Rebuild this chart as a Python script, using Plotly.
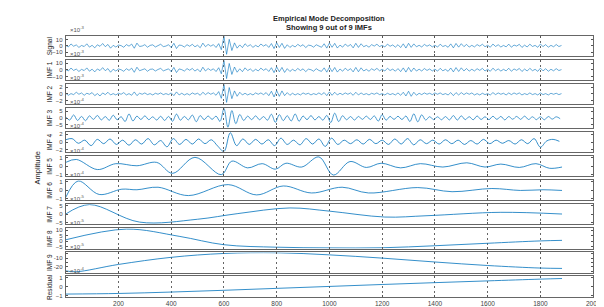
import plotly.graph_objects as go

W, H = 604, 307

# ---------------- data (mantissas; exponent per panel in EXPONENTS) ----------------
PANEL_NAMES = ["Signal", "IMF 1", "IMF 2", "IMF 3", "IMF 4", "IMF 5",
               "IMF 6", "IMF 7", "IMF 8", "IMF 9", "Residual"]
EXPONENTS = [-3, -3, -3, -4, -4, -4, -4, -5, -5, -5, -4]

SIGNAL_STEP = 10
signal_vals = [
    0.6, -1.8, 2.9, -0.7, 1.4, -2.6, 0.5, -1.2, 3.1, -2.2,
    0.8, -3.3, 1.6, -0.9, 3.6, -1.4, 2.1, -3.8, 0.7, -2.0,
    1.1, 0.3, -2.4, 1.9, -0.6, 2.7, -3.9, 4.2, -1.1, -0.4,
    1.8, -2.3, 0.6, 1.5, -1.9, 0.4, 2.4, -1.3, -0.5, 1.7,
    -2.9, 3.9, -4.3, 1.2, 0.5, -2.0, 1.7, -0.8, 2.3, -1.6,
    0.9, -3.1, 4.2, -1.5, 2.2, -0.6, 1.8, -2.7, 3.4, -6.2,
    15.0, -13.5, 10.2, -7.5, 4.6, -3.8, 1.4, -2.9, 3.2, -0.9,
    1.6, -2.5, 0.7, -1.8, 2.8, -0.5, 1.9, -2.6, 3.5, -4.4,
    4.8, -2.7, 3.9, -4.1, 1.6, -2.6, 0.6, -1.9, 2.3, -0.8,
    1.7, -2.9, 0.9, 0.4, -2.2, 1.6, -0.7, -2.4, 3.2, -3.7,
    4.3, -2.4, 3.8, -3.6, 1.1, -2.2, 2.7, -0.9, 2.0, -3.3,
    3.9, -2.6, 3.2, -1.5, 0.6, -2.3, 1.8, -0.5, 2.4, -1.2,
    0.7, -1.9, 2.6, -0.8, 1.3, -2.2, 1.7, -2.8, 3.1, -3.6,
    3.9, -2.5, 3.0, -1.6, 0.8, -1.9, 2.2, -0.7, 1.5, -1.8,
    0.9, -2.1, 2.5, -1.2, 0.5, -2.4, 3.0, -3.3, 3.7, -2.2,
    3.3, -1.4, 2.2, -2.1, 0.7, -1.8, 1.9, -0.6, 2.4, -1.5,
    0.8, -2.3, 2.7, -1.1, 1.6, -2.0, 0.6, -1.7, 2.6, -2.3,
    1.2, -0.5, 2.3, -2.6, 1.0, -1.9, 2.5, -1.1, 0.6, -2.4,
    2.7, -1.3, 1.9, -2.3, 0.7, -1.6, 2.0, -1.2, 0.5,
]

imf1_vals = [
    0.5, -1.6, 2.7, -0.9, 1.2, -2.4, 0.7, -1.0, 2.9, -2.0,
    1.0, -3.0, 1.4, -1.1, 3.3, -1.2, 1.9, -3.5, 0.9, -1.8,
    1.3, 0.2, -2.2, 1.7, -0.8, 2.5, -3.6, 3.9, -1.3, -0.2,
    1.6, -2.1, 0.8, 1.2, -1.7, 0.6, 2.2, -1.5, -0.3, 1.5,
    -2.7, 3.6, -4.0, 1.4, 0.3, -1.8, 1.9, -0.6, 2.1, -1.8,
    1.1, -2.9, 3.9, -1.7, 2.0, -0.8, 1.6, -2.5, 3.2, -5.8,
    13.8, -12.9, 9.5, -6.8, 4.2, -3.5, 1.6, -2.7, 3.0, -1.1,
    1.4, -2.3, 0.9, -1.6, 2.6, -0.7, 1.7, -2.4, 3.2, -4.1,
    4.5, -2.9, 3.6, -3.8, 1.8, -2.4, 0.8, -1.7, 2.1, -1.0,
    1.5, -2.7, 1.1, 0.2, -2.0, 1.8, -0.9, -2.2, 3.0, -3.4,
    4.0, -2.6, 3.5, -3.3, 1.3, -2.0, 2.5, -1.1, 1.8, -3.0,
    3.6, -2.8, 3.0, -1.7, 0.8, -2.1, 1.6, -0.7, 2.2, -1.4,
    0.9, -1.7, 2.4, -1.0, 1.1, -2.0, 1.9, -2.6, 2.9, -3.3,
    3.6, -2.7, 2.8, -1.8, 1.0, -1.7, 2.0, -0.9, 1.3, -1.6,
    1.1, -1.9, 2.3, -1.4, 0.7, -2.2, 2.8, -3.0, 3.4, -2.4,
    3.0, -1.6, 2.0, -1.9, 0.9, -1.6, 1.7, -0.8, 2.2, -1.7,
    1.0, -2.1, 2.5, -1.3, 1.4, -1.8, 0.8, -1.5, 2.4, -2.1,
    1.4, -0.7, 2.1, -2.4, 1.2, -1.7, 2.3, -1.3, 0.8, -2.2,
    2.5, -1.5, 1.7, -2.1, 0.9, -1.4, 1.8, -1.0, 0.4,
]

imf2_vals = [
    0.2, -0.4, 0.1, -0.2, 0.5, -0.1, 0.3, -0.4, 0.2, -0.1,
    0.4, -0.5, 0.1, -0.6, 0.3, -0.2, 0.5, -0.3, 0.1, -0.3,
    0.2, -0.1, 0.4, -0.3, 0.1, -0.4, 0.6, -0.5, 0.2, -0.1,
    0.3, -0.2, 0.1, -0.3, 0.2, -0.1, 0.3, -0.2, 0.1, -0.2,
    0.3, -0.5, 0.6, -0.3, 0.2, -0.3, 0.1, -0.3, 0.3, -0.1,
    0.2, -0.4, 0.5, -0.2, 0.4, -0.1, 0.3, -0.4, 0.7, -1.3,
    2.8, -2.5, 1.9, -1.4, 0.9, -0.7, 0.5, -0.3, 0.2, -0.3,
    0.1, -0.3, 0.3, -0.1, 0.3, -0.2, 0.4, -0.5, 0.8, -0.9,
    1.0, -0.7, 0.9, -0.5, 0.4, -0.4, 0.2, -0.3, 0.1, -0.3,
    0.3, -0.1, 0.2, -0.3, 0.1, -0.2, 0.3, -0.2, 0.4, -0.5,
    0.6, -0.4, 0.5, -0.3, 0.2, -0.2, 0.3, -0.1, 0.3, -0.4,
    0.5, -0.3, 0.3, -0.2, 0.1, -0.3, 0.2, -0.1, 0.3, -0.2,
    0.1, -0.3, 0.2, -0.2, 0.1, -0.3, 0.3, -0.4, 0.5, -0.6,
    0.8, -0.7, 0.5, -0.4, 0.2, -0.2, 0.3, -0.1, 0.2, -0.2,
    0.3, -0.1, 0.3, -0.2, 0.1, -0.3, 0.4, -0.5, 0.4, -0.3,
    0.4, -0.2, 0.3, -0.1, 0.3, -0.3, 0.1, -0.3, 0.2, -0.2,
    0.1, -0.3, 0.4, -0.2, 0.3, -0.1, 0.2, -0.3, 0.3, -0.2,
    0.3, -0.1, 0.3, -0.3, 0.1, -0.2, 0.3, -0.2, 0.1, -0.3,
    0.3, -0.2, 0.1, -0.3, 0.2, -0.1, 0.2, -0.2, 0.1,
]

IMF3_STEP = 15
imf3_vals = [
    0.8, -1.5, 2.3, -1.8, 1.2, -2.0, 1.6, -1.0, 1.9, -1.4,
    1.1, -1.7, 2.1, -1.3, 1.0, -2.6, 3.0, -2.2, 1.4, -1.1,
    1.6, -1.2, 0.9, -1.5, 1.3, -1.8, 1.2, -2.4, 2.9, -1.6,
    1.2, -1.4, 2.2, -2.7, 1.8, -1.2, 1.5, -1.0, 1.4, -2.5,
    7.0, -6.8, 5.5, -4.2, 2.6, -1.8, 1.4, -1.2, 1.6, -1.3,
    1.1, -1.6, 2.8, -3.2, 2.5, -1.9, 1.7, -2.2, 3.0, -2.4,
    1.5, -1.2, 1.8, -1.4, 1.1, -1.6, 1.9, -3.4, 3.6, -2.6,
    1.7, -1.3, 1.1, -1.5, 1.2, -1.0, 1.4, -1.1, 1.6, -2.3,
    2.5, -1.6, 1.2, -1.0, 1.3, -1.1, 1.5, -2.6, 3.1, -2.8,
    2.4, -1.5, 1.0, -1.2, 0.9, -1.3, 1.1, -1.4, 1.8, -1.5,
    1.6, -1.2, 1.0, -1.3, 1.5, -1.1, 0.9, -1.2, 1.3, -1.0,
    1.2, -1.4, 1.1, -0.9, 1.2, -1.0, 1.4, -1.1, 0.9, -1.2,
    1.0, -1.3, 1.1, -0.8, 0.9, -0.5,
]

IMF4_STEP = 24
imf4_vals = [
    0.6, 0.9, -0.3, 0.5, -0.9, 0.7, -0.4, 0.8, -0.6, 0.5,
    -0.8, 0.6, -0.5, 0.9, -0.7, 0.4, -1.2, 0.9, -0.6, 0.7,
    -0.5, 0.8, -0.4, 0.6, -1.0, -2.4, 2.4, -0.9, 0.8, -0.6,
    0.7, -0.5, 0.6, -0.9, 1.0, -0.6, 0.5, -0.7, 0.9, -0.5,
    0.8, -1.1, 1.0, -0.6, 0.5, -0.4, 0.6, -0.5, 0.7, -0.4,
    0.5, -0.6, 0.8, -0.5, 0.9, -0.7, 0.6, -0.4, 0.5, -0.5,
    0.6, -0.4, 0.5, -0.6, 0.4, -0.5, 0.7, -0.4, 0.5, -0.3,
    0.4, -0.5, 0.6, -0.4, 0.9, -1.3, 0.3, 0.7, 0.2,
]

imf5_x = [0, 40, 120, 190, 270, 345, 405, 490, 590, 630, 690, 745, 795, 835, 895,
          960, 1015, 1078, 1140, 1196, 1270, 1345, 1430, 1521, 1590, 1650, 1720,
          1783, 1835, 1882]
imf5_v = [0.45, 0.8, -0.4, 0.3, 0.05, 0.45, -0.85, 1.05, -1.0, 0.6, -0.2, 0.3,
          -0.35, 0.35, -0.1, 1.1, -1.05, 0.55, -0.15, 0.35, -0.2, 0.3, -0.1, 0.4,
          -0.1, 0.25, -0.15, 0.3, -0.25, -0.1]

imf6_x = [0, 47, 127, 213, 270, 350, 465, 616, 724, 825, 932, 1048, 1148, 1335,
          1465, 1616, 1724, 1810, 1882]
imf6_v = [-0.85, 1.1, -0.5, 0.13, 0.06, 0.36, -0.63, 0.67, -0.55, 0.51, -0.32,
          0.36, -0.32, 0.32, -0.17, 0.21, -0.02, 0.06, -0.02]

imf7_x = [0, 90, 280, 500, 650, 850, 1000, 1210, 1370, 1650, 1882]
imf7_v = [0.2, 5.8, -4.6, -2.9, 0.4, 3.8, 1.9, -1.6, -0.8, 1.2, 0.2]

imf8_x = [0, 230, 430, 600, 800, 1000, 1200, 1400, 1600, 1800, 1882]
imf8_v = [1.3, 10.8, 4.4, -3.1, -5.3, -5.9, -5.8, -4.0, -1.8, 0.3, 0.8]

imf9_x = [0, 40, 200, 400, 600, 800, 1000, 1200, 1400, 1600, 1800, 1882]
imf9_v = [-24.5, -25.5, -17.2, -9.1, -4.7, -3.9, -6.3, -10.0, -14.4, -18.4,
          -21.3, -21.7]

resid_x = [0, 200, 400, 600, 800, 1000, 1200, 1400, 1600, 1800, 1882]
resid_v = [-0.85, -0.78, -0.62, -0.42, -0.2, 0.02, 0.24, 0.45, 0.65, 0.85, 0.92]

Y_RANGES = [[-16, 16], [-15, 15], [-3, 3], [-7.5, 7.5], [-2.6, 2.6], [-1.2, 1.2],
            [-1.2, 1.2], [-6, 6], [-6.5, 11.5], [-26.5, -3.5], [-1.15, 1.15]]
Y_TICKS = [[-10, 0, 10], [-10, 0, 10], [-2, 0, 2], [-5, 0, 5], [-2, 0, 2],
           [-1, 0, 1], [-1, 0, 1], [-5, 0, 5], [-5, 0, 5, 10],
           [-25, -20, -15, -10, -5], [-1, 0, 1]]
Y_TICKTEXT = [None, None, None, None, None, None, None, None, None,
              ["", "-20", "", "-10", ""], None]
X_TICKS = [200, 400, 600, 800, 1000, 1200, 1400, 1600, 1800, 2000]


def grid_x(vals, step):
    return [i * step for i in range(len(vals))]


series = [
    (grid_x(signal_vals, SIGNAL_STEP), signal_vals, "linear", 0.6),
    (grid_x(imf1_vals, SIGNAL_STEP), imf1_vals, "linear", 0.6),
    (grid_x(imf2_vals, SIGNAL_STEP), imf2_vals, "linear", 0.6),
    (grid_x(imf3_vals, IMF3_STEP), imf3_vals, "spline", 0.7),
    (grid_x(imf4_vals, IMF4_STEP), imf4_vals, "spline", 0.8),
    (imf5_x, imf5_v, "spline", 0.8),
    (imf6_x, imf6_v, "spline", 0.8),
    (imf7_x, imf7_v, "spline", 0.8),
    (imf8_x, imf8_v, "spline", 0.8),
    (imf9_x, imf9_v, "spline", 0.8),
    (resid_x, resid_v, "spline", 0.8),
]

# ---------------- layout geometry (pixels) ----------------
X0, X1 = 58.5, 593.0
TOP0, PITCH, PH = 26.0, 24.4, 20.5
FONT = "Liberation Sans, Arial, Helvetica, sans-serif"
LINE_COLOR = "#0072BD"

fig = go.Figure()
layout = dict(
    width=W, height=H, autosize=False,
    margin=dict(l=0, r=0, t=0, b=0),
    paper_bgcolor="white", plot_bgcolor="white",
    showlegend=False,
    font=dict(family=FONT, size=6, color="#333333"),
)
annotations = []

n = len(PANEL_NAMES)
for k in range(n):
    sfx = "" if k == 0 else str(k + 1)
    top = TOP0 + k * PITCH
    bot = top + PH
    xs, ys, shape, lw = series[k]
    fig.add_trace(go.Scatter(
        x=xs, y=ys, mode="lines",
        line=dict(color=LINE_COLOR, width=lw, shape=shape, smoothing=1.0),
        xaxis="x" + sfx, yaxis="y" + sfx, hoverinfo="skip",
    ))
    last = (k == n - 1)
    layout["xaxis" + sfx] = dict(
        domain=[X0 / W, X1 / W], anchor="y" + sfx,
        range=[0, 2000], tickvals=X_TICKS,
        showticklabels=last, tickfont=dict(size=6.5, color="#444444"),
        ticks="inside", ticklen=2, tickcolor="#555555",
        showline=True, linecolor="#666666", linewidth=1, mirror="allticks",
        showgrid=True, gridcolor="#666666", gridwidth=0.6, griddash="2px,3px",
        zeroline=False,
        **({} if k == 0 else {"matches": "x"}),
    )
    ydict = dict(
        domain=[1 - bot / H, 1 - top / H], anchor="x" + sfx,
        range=Y_RANGES[k], tickvals=Y_TICKS[k],
        tickfont=dict(size=6, color="#444444"),
        ticks="inside", ticklen=2, tickcolor="#555555",
        showline=True, linecolor="#666666", linewidth=1, mirror="allticks",
        showgrid=False, zeroline=False, ticklabelstandoff=1,
    )
    if Y_TICKTEXT[k] is not None:
        ydict["ticktext"] = Y_TICKTEXT[k]
    layout["yaxis" + sfx] = ydict
    # exponent label
    annotations.append(dict(
        xref="paper", yref="paper", x=(X0 + 2) / W, y=1 - (top - 0.5) / H,
        xanchor="left", yanchor="bottom", showarrow=False,
        text="\u00d710<sup>%d</sup>" % EXPONENTS[k],
        font=dict(size=6, color="#555555"),
    ))
    # panel label
    annotations.append(dict(
        xref="paper", yref="paper", x=42 / W, y=1 - (top + PH / 2) / H,
        xanchor="center", yanchor="middle", showarrow=False, textangle=-90,
        text=PANEL_NAMES[k], font=dict(size=6.5, color="#222222"),
    ))

annotations.append(dict(
    xref="paper", yref="paper", x=30 / W, y=1 - 160 / H,
    xanchor="center", yanchor="middle", showarrow=False, textangle=-90,
    text="Amplitude", font=dict(size=7.5, color="#222222"),
))
annotations.append(dict(
    xref="paper", yref="paper", x=((X0 + X1) / 2) / W, y=1 - 9 / H,
    xanchor="center", yanchor="middle", showarrow=False,
    text="<b>Empirical Mode Decomposition</b>", font=dict(size=7.5, color="#222222"),
))
annotations.append(dict(
    xref="paper", yref="paper", x=((X0 + X1) / 2) / W, y=1 - 17.5 / H,
    xanchor="center", yanchor="middle", showarrow=False,
    text="<b>Showing 9 out of 9 IMFs</b>", font=dict(size=7.5, color="#222222"),
))
layout["annotations"] = annotations
fig.update_layout(**layout)

fig.write_html("out.html")
